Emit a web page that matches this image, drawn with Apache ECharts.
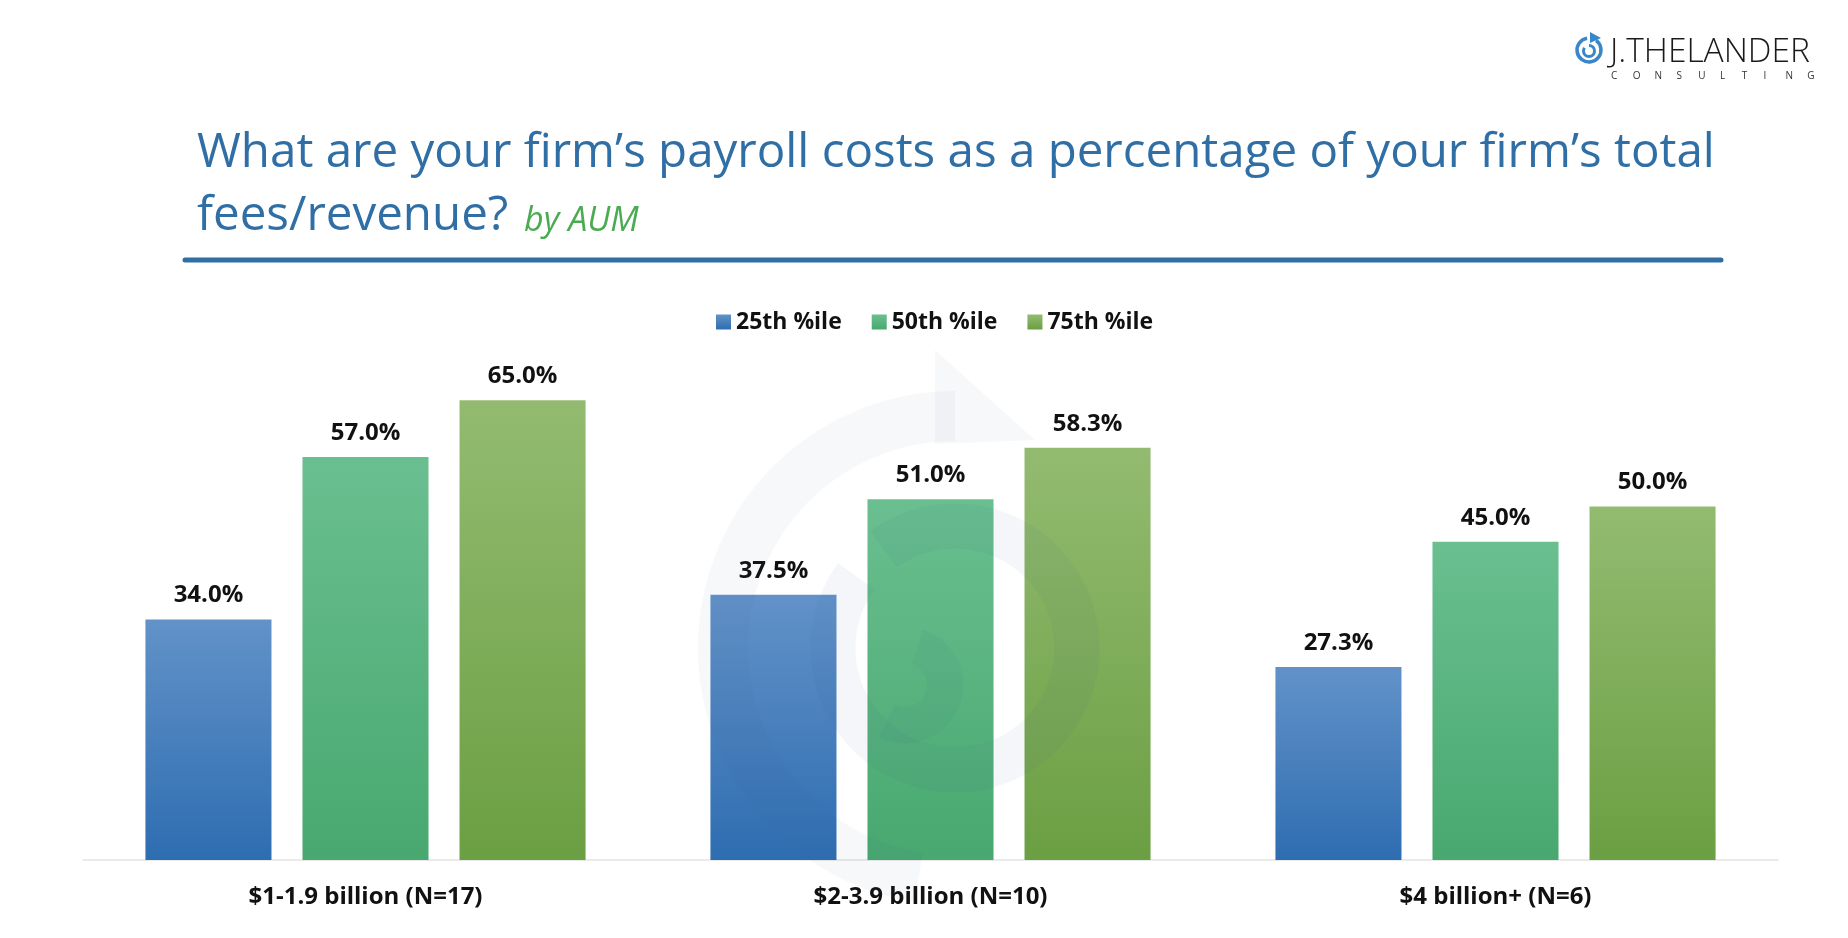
<!DOCTYPE html>
<html>
<head>
<meta charset="utf-8">
<script src="https://cdn.jsdelivr.net/npm/echarts@6/dist/echarts.min.js"></script>
<style>
html,body{margin:0;padding:0;background:#fff;}
#chart{width:1848px;height:938px;}
</style>
</head>
<body>
<div id="chart"></div>
<script>
const categories = ['$1-1.9 billion (N=17)', '$2-3.9 billion (N=10)', '$4 billion+ (N=6)'];
const seriesNames = ['25th %ile', '50th %ile', '75th %ile'];
const p25 = [34.0, 37.5, 27.3];
const p50 = [57.0, 51.0, 45.0];
const p75 = [65.0, 58.3, 50.0];
const titleLine1 = 'What are your firm\u2019s payroll costs as a percentage of your firm\u2019s total';
const titleLine2 = 'fees/revenue?';
const titleSub = 'by AUM';

const FONT = '"Open Sans", "Noto Sans", sans-serif';
const grads = [
  ['#6292c8', '#2e6db1'],
  ['#6abf90', '#48a86f'],
  ['#93bb70', '#6b9f43']
];
function grad(c) {
  return new echarts.graphic.LinearGradient(0, 0, 0, 1, [
    {offset: 0, color: c[0]}, {offset: 1, color: c[1]}
  ]);
}
const dataSets = [p25, p50, p75];

const chart = echarts.init(document.getElementById('chart'), null, {renderer: 'canvas'});

const wm = 'rgba(60,100,150,0.045)';
const logoLetters = 'CONSULTING'.split('').map((ch, i) => ({
  type: 'text', left: 1611 + i * 21.8, top: 71,
  style: {text: ch, font: '400 10px ' + FONT, fill: '#333'}
}));

const option = {
  backgroundColor: '#ffffff',
  animation: false,
  textStyle: {fontFamily: FONT},
  legend: {
    data: seriesNames,
    left: 711, top: 305,
    itemWidth: 15, itemHeight: 15, itemGap: 30,
    icon: 'rect',
    textStyle: {fontSize: 23, fontWeight: 'bold', color: '#111', fontFamily: FONT, lineHeight: 24}
  },
  grid: {left: 83, right: 70, top: 365, bottom: 78, containLabel: false},
  xAxis: {
    type: 'category', data: categories,
    axisLine: {lineStyle: {color: '#e3e3e3', width: 1.5}},
    axisTick: {show: false},
    axisLabel: {fontSize: 24, fontWeight: 'bold', color: '#111', margin: 25, lineHeight: 24, fontFamily: FONT}
  },
  yAxis: {type: 'value', min: 0, max: 70, show: false, splitLine: {show: false}},
  series: seriesNames.map((n, i) => ({
    name: n, type: 'bar', data: dataSets[i],
    barGap: '24.6%', barCategoryGap: '22.1%',
    itemStyle: {color: grad(grads[i])},
    label: {show: true, position: 'top', distance: 12, fontSize: 24, fontWeight: 'bold', color: '#111', lineHeight: 24, fontFamily: FONT,
      formatter: p => p.value.toFixed(1) + '%'}
  })),
  graphic: [
    {type: 'text', left: 197, top: 129, z: 10,
      style: {text: titleLine1, font: '400 47.5px ' + FONT, fill: '#2f6fa5'}},
    {type: 'text', left: 197, top: 192, z: 10,
      style: {text: titleLine2, font: '400 47.5px ' + FONT, fill: '#2f6fa5'}},
    {type: 'text', left: 524, top: 204, z: 10,
      style: {text: titleSub, font: 'italic 400 34px ' + FONT, fill: '#4aab52'}},
    {type: 'line', z: 10, shape: {x1: 185, y1: 260, x2: 1721, y2: 260},
      style: {stroke: '#2f6fa5', lineWidth: 5, lineCap: 'round'}},
    // watermark spiral
    {type: 'arc', z: 100, silent: true, shape: {cx: 955, cy: 648, r: 232, startAngle: Math.PI * 0.55, endAngle: Math.PI * 1.5},
      style: {stroke: wm, lineWidth: 50, fill: null}},
    {type: 'polygon', z: 100, silent: true, shape: {points: [[935, 350], [1035, 440], [935, 444]]},
      style: {fill: wm}},
    {type: 'arc', z: 100, silent: true, shape: {cx: 955, cy: 648, r: 122, startAngle: Math.PI * 1.3, endAngle: Math.PI * 3.2},
      style: {stroke: 'rgba(60,100,150,0.055)', lineWidth: 45, fill: null}},
    {type: 'arc', z: 100, silent: true, shape: {cx: 905, cy: 685, r: 40, startAngle: -Math.PI * 0.4, endAngle: Math.PI * 0.65},
      style: {stroke: 'rgba(60,100,150,0.055)', lineWidth: 36, fill: null}},
    // logo
    {type: 'arc', z: 10, shape: {cx: 1589, cy: 50, r: 12, startAngle: -Math.PI * 0.3, endAngle: Math.PI * 1.45},
      style: {stroke: '#3a86c8', lineWidth: 3.5, fill: null}},
    {type: 'arc', z: 10, shape: {cx: 1589, cy: 51, r: 5.5, startAngle: -Math.PI * 0.5, endAngle: Math.PI * 1.2},
      style: {stroke: '#3a86c8', lineWidth: 3, fill: null}},
    {type: 'polygon', z: 10, shape: {points: [[1590, 32], [1601, 38], [1590, 43]]},
      style: {fill: '#3a86c8'}},
    {type: 'text', left: 1610, top: 35, z: 10,
      style: {text: 'J.THELANDER', font: '300 33.5px ' + FONT, fill: '#1a1a1a'}}
  ].concat(logoLetters)
};
chart.setOption(option);
</script>
</body>
</html>
